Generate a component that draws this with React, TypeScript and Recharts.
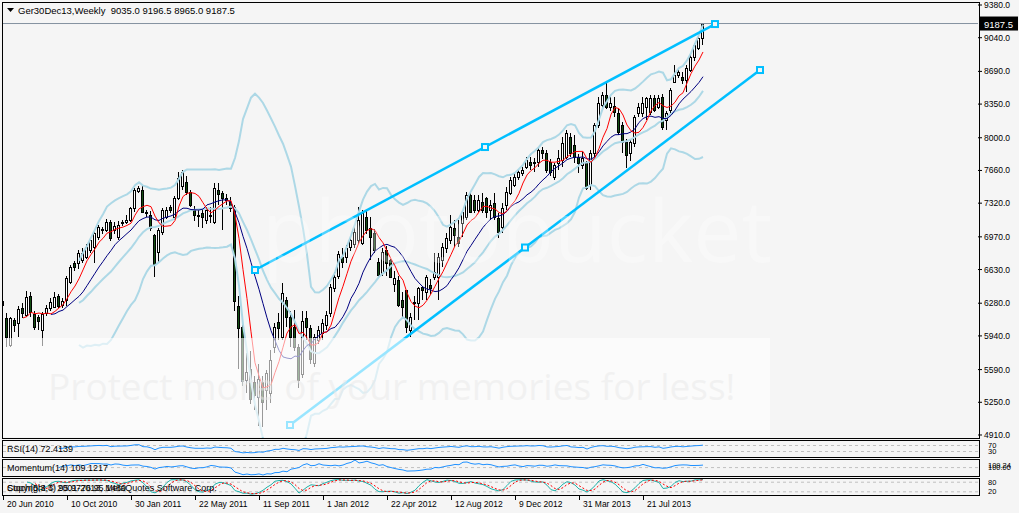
import {
  Bar,
  ComposedChart,
  Line,
  ReferenceDot,
  ReferenceLine,
  XAxis,
  YAxis,
} from "recharts";

// weekly bars, index 0 = week of 20 Jun 2010
const OPEN = [
  6300, 6123, 5846, 6106, 6071, 6234, 6158, 6355, 6165, 6140, 6002, 6175, 6227, 6244, 6358, 6260,
  6313, 6504, 6702, 6695, 6730, 6764, 6833, 6868, 6965, 7050, 7041, 7128, 7041, 6972, 7110, 7128,
  7145, 7266, 7450, 7457, 7232, 7197, 6989, 6816, 7024, 7180, 7284, 7180, 7370, 7500, 7540, 7440,
  7250, 7200, 7215, 7145, 7190, 7128, 7460, 7422, 7370, 7336, 7284, 6250, 6030, 5480, 5600, 5460,
  5300, 5465, 5380, 5343, 5828, 6088, 5932, 6313, 6140, 6036, 5828, 5540, 6123, 6019, 5655, 5900,
  5967, 6054, 6175, 6435, 6560, 6764, 6764, 6868, 6900, 6937, 6902, 7180, 7058, 7006, 6712, 6590,
  6833, 6730, 6480, 6522, 6313, 6417, 6001, 6296, 6279, 6452, 6400, 6470, 6556, 6556, 6729, 6850,
  6937, 7058, 6972, 7110, 7180, 7405, 7353, 7249, 7336, 7370, 7249, 7318, 7162, 7076, 7301, 7422,
  7509, 7596, 7630, 7700, 7752, 7752, 7752, 7873, 7838, 7752, 7596, 7734, 7769, 7803, 8012, 7925,
  7803, 7717, 7734, 7509, 7838, 8133, 8340, 8444, 8323, 8330, 8254, 8133, 7959, 7838, 7942, 8254,
  8254, 8323, 8271, 8410, 8323, 8427, 8185, 8289, 8583, 8652, 8635, 8600, 8704, 8843, 8930, 9035,
];
const HIGH = [
  6350, 6175, 6140, 6130, 6250, 6280, 6410, 6400, 6200, 6160, 6190, 6260, 6330, 6400, 6380, 6330,
  6560, 6680, 6720, 6830, 6850, 6900, 6960, 7030, 7090, 7070, 7160, 7140, 7120, 7130, 7150, 7200,
  7280, 7480, 7500, 7510, 7250, 7240, 7000, 7060, 7270, 7280, 7300, 7390, 7640, 7665, 7600, 7460,
  7290, 7250, 7260, 7280, 7280, 7530, 7530, 7450, 7420, 7380, 7300, 6360, 6110, 5760, 5780, 5520,
  5650, 5520, 5590, 5790, 6071, 6175, 6487, 6348, 6200, 6209, 5860, 6200, 6200, 6050, 5960, 6040,
  6120, 6200, 6480, 6600, 6820, 6850, 6880, 6970, 7080, 7284, 7250, 7250, 7180, 7050, 6750, 6850,
  6870, 6740, 6620, 6560, 6400, 6420, 6180, 6350, 6452, 6452, 6573, 6530, 6799, 6799, 6903, 7006,
  7197, 7145, 7145, 7250, 7440, 7440, 7405, 7405, 7422, 7388, 7353, 7422, 7215, 7318, 7492, 7596,
  7630, 7680, 7700, 7800, 7800, 7790, 7890, 7900, 7870, 7780, 7740, 7873, 8012, 8080, 8046, 8029,
  7830, 7850, 7760, 7870, 8150, 8427, 8480, 8566, 8420, 8420, 8300, 8160, 7990, 7980, 8240, 8358,
  8427, 8427, 8444, 8440, 8440, 8450, 8280, 8514, 8756, 8720, 8680, 8756, 8860, 8990, 9068, 9196.5,
];
const LOW = [
  6240, 5828, 5820, 5980, 5930, 6130, 6140, 6140, 6000, 6000, 5830, 6150, 6200, 6230, 6230, 6230,
  6250, 6480, 6620, 6640, 6700, 6740, 6800, 6695, 6940, 7000, 7020, 6930, 7000, 6940, 7080, 7100,
  7120, 7230, 7430, 7220, 7180, 7030, 6556, 6695, 6990, 7160, 7220, 7150, 7350, 7460, 7400, 7280,
  7130, 7076, 7060, 7100, 7110, 7100, 7300, 7040, 7300, 7230, 6200, 5600, 5420, 5350, 5230, 5170,
  5000, 4997, 5170, 5240, 5759, 5898, 5900, 6036, 5828, 5780, 5400, 5500, 5900, 5650, 5620, 5860,
  5900, 6000, 6140, 6400, 6530, 6650, 6700, 6820, 6850, 6900, 6880, 7000, 6730, 6800, 6540, 6560,
  6560, 6550, 6400, 6240, 6140, 5967, 5932, 6106, 6106, 6313, 6313, 6380, 6520, 6313, 6660, 6800,
  6900, 6868, 6868, 6972, 7145, 7215, 7215, 7232, 7215, 7162, 7145, 7145, 6954, 7006, 7249, 7405,
  7492, 7560, 7600, 7680, 7665, 7648, 7700, 7780, 7630, 7600, 7560, 7665, 7700, 7780, 7800, 7734,
  7630, 7680, 7457, 7457, 7800, 8100, 8290, 8300, 8280, 8220, 8030, 7838, 7683, 7760, 7900, 8220,
  8220, 8185, 8240, 8270, 8300, 8080, 8080, 8260, 8566, 8620, 8560, 8480, 8680, 8800, 8910, 8965,
];
const CLOSE = [
  6260, 5932, 6123, 6054, 6217, 6175, 6348, 6192, 6036, 6098, 6165, 6227, 6296, 6348, 6251, 6300,
  6539, 6660, 6653, 6799, 6806, 6868, 6937, 7006, 7069, 7040, 7128, 6955, 7083, 7093, 7128, 7145,
  7266, 7457, 7474, 7232, 7215, 7058, 6677, 7041, 7249, 7249, 7249, 7370, 7578, 7640, 7440, 7300,
  7197, 7190, 7180, 7249, 7200, 7474, 7420, 7370, 7350, 7266, 6300, 6020, 5470, 5560, 5280, 5330,
  5490, 5257, 5550, 5690, 6036, 6019, 6383, 6140, 5932, 5828, 5482, 6100, 6036, 5700, 5932, 6000,
  6071, 6157, 6452, 6556, 6790, 6712, 6851, 6937, 7020, 7145, 7215, 7040, 6972, 6833, 6573, 6816,
  6695, 6556, 6540, 6262, 6245, 6036, 6140, 6279, 6435, 6417, 6556, 6440, 6608, 6764, 6868, 6954,
  7076, 6990, 6903, 7232, 7405, 7232, 7249, 7353, 7249, 7232, 7301, 7180, 7024, 7266, 7440, 7561,
  7596, 7648, 7665, 7769, 7717, 7734, 7873, 7838, 7665, 7648, 7717, 7786, 7942, 8046, 7838, 7803,
  7734, 7786, 7474, 7838, 8133, 8358, 8444, 8323, 8358, 8270, 8063, 7959, 7821, 7959, 8219, 8323,
  8358, 8410, 8410, 8289, 8410, 8115, 8254, 8496, 8652, 8687, 8600, 8722, 8843, 8964, 9034, 9187.5,
];

const DATE_TICKS = [0, 16, 32, 48, 64, 80, 96, 112, 128, 144, 160];
const DATE_LABELS = [
  "20 Jun 2010", "10 Oct 2010", "30 Jan 2011", "22 May 2011", "11 Sep 2011", "1 Jan 2012",
  "22 Apr 2012", "12 Aug 2012", "9 Dec 2012", "31 Mar 2013", "21 Jul 2013",
];
const PRICE_TICKS = [9380, 9040, 8690, 8350, 8000, 7660, 7320, 6970, 6630, 6280, 5940, 5590, 5250, 4910];

// hand-drawn channel: [bar, price] end points
const UPPER_CHANNEL = [[63, 6625], [178, 9182]];
const LOWER_CHANNEL = [[71.75, 5014], [189.25, 8704]];

const RSI_LEVELS = [30, 70];
const STOCH_LEVELS = [20, 80];

const FONT = "'Liberation Sans', Arial, sans-serif";
const BG = "#f5f5f5";
const AXIS_W = 41;
const X_DOMAIN: [number, number] = [-0.25, 243.75];
const PRICE_DOMAIN: [number, number] = [4878.8, 9411.2];

function sma(values: (number | null)[], period: number): (number | null)[] {
  return values.map((_, i) => {
    if (i < period - 1) return null;
    let sum = 0;
    for (let k = i - period + 1; k <= i; k++) {
      const v = values[k];
      if (v == null) return null;
      sum += v;
    }
    return sum / period;
  });
}

function bands(values: number[], period: number, dev: number) {
  const mid = sma(values, period);
  const up: (number | null)[] = [];
  const low: (number | null)[] = [];
  values.forEach((_, i) => {
    const m = mid[i];
    if (m == null) {
      up.push(null);
      low.push(null);
      return;
    }
    let s = 0;
    for (let k = i - period + 1; k <= i; k++) s += (values[k] - m) ** 2;
    const sd = Math.sqrt(s / period);
    up.push(m + dev * sd);
    low.push(m - dev * sd);
  });
  return { mid, up, low };
}

function rsi(values: number[], period: number): (number | null)[] {
  const out: (number | null)[] = values.map(() => null);
  let gain = 0;
  let loss = 0;
  for (let i = 1; i < values.length; i++) {
    const d = values[i] - values[i - 1];
    const g = Math.max(d, 0);
    const l = Math.max(-d, 0);
    if (i <= period) {
      gain += g / period;
      loss += l / period;
    } else {
      gain = (gain * (period - 1) + g) / period;
      loss = (loss * (period - 1) + l) / period;
    }
    if (i >= period) out[i] = loss === 0 ? 100 : 100 - 100 / (1 + gain / loss);
  }
  return out;
}

function momentum(values: number[], period: number): (number | null)[] {
  return values.map((v, i) => (i < period ? null : (v / values[i - period]) * 100));
}

function stochastic(kPeriod: number, slowing: number, dPeriod: number) {
  const lowest: number[] = [];
  const highest: number[] = [];
  CLOSE.forEach((_, i) => {
    const from = Math.max(0, i - kPeriod + 1);
    lowest.push(Math.min(...LOW.slice(from, i + 1)));
    highest.push(Math.max(...HIGH.slice(from, i + 1)));
  });
  const k: (number | null)[] = CLOSE.map((_, i) => {
    if (i < kPeriod + slowing - 2) return null;
    let num = 0;
    let den = 0;
    for (let j = i - slowing + 1; j <= i; j++) {
      num += CLOSE[j] - lowest[j];
      den += highest[j] - lowest[j];
    }
    return den === 0 ? 100 : (num / den) * 100;
  });
  return { k, d: sma(k, dPeriod) };
}

const fastMa = sma(CLOSE, 6);
const slowMa = sma(CLOSE, 13);
const bb = bands(CLOSE, 20, 2);
const rsiLine = rsi(CLOSE, 14);
const momLine = momentum(CLOSE, 14);
const stoch = stochastic(5, 3, 3);

const rows = CLOSE.map((close, i) => ({
  bar: i,
  open: OPEN[i],
  high: HIGH[i],
  low: LOW[i],
  close,
  range: [LOW[i], HIGH[i]],
  fast: fastMa[i],
  slow: slowMa[i],
  bbUp: bb.up[i],
  bbMid: bb.mid[i],
  bbLow: bb.low[i],
  rsi: rsiLine[i],
  mom: momLine[i],
  stK: stoch.k[i],
  stD: stoch.d[i],
}));

const momValues = momLine.filter((v): v is number => v != null);
const MOM_DOMAIN: [number, number] = [Math.min(...momValues), Math.max(...momValues)];

const last = CLOSE.length - 1;
const LAST_PRICE = CLOSE[last];
const LAST_MOM = momLine[last] ?? 100;

function Candle(props: any) {
  const { x, y, width, height, payload } = props;
  if (!payload) return null;
  const top = Math.min(y, y + height);
  const span = Math.abs(height);
  const { open, high, low, close } = payload;
  const toY = (v: number) => top + ((high - v) / (high - low)) * span;
  const cx = Math.round(x + width / 2 - 0.5);
  const yo = toY(open);
  const yc = toY(close);
  const bodyTop = Math.round(Math.min(yo, yc));
  const bodyBottom = Math.max(Math.round(Math.max(yo, yc)), bodyTop + 1);
  const up = close >= open;
  return (
    <g>
      <line
        x1={cx + 0.5}
        x2={cx + 0.5}
        y1={Math.round(top)}
        y2={Math.round(top + span)}
        stroke="#000"
        strokeWidth={1}
      />
      <rect
        x={cx - 0.5}
        y={bodyTop + 0.5}
        width={2}
        height={bodyBottom - bodyTop}
        fill={up ? "#ffffff" : "#124d12"}
        stroke="#000"
        strokeWidth={1}
      />
    </g>
  );
}

function PriceTag(props: any) {
  const vb = props.viewBox ?? {};
  const x = vb.x + vb.width + 2;
  const y = vb.y;
  return (
    <g>
      <rect x={x} y={y - 7} width={38} height={14} fill="#000" />
      <text x={x + 4} y={y + 4} fill="#fff" fontSize={9.5} fontFamily={FONT}>
        {LAST_PRICE.toFixed(1)}
      </text>
    </g>
  );
}

function Marker(props: any) {
  const { cx, cy } = props;
  return (
    <rect x={cx - 3} y={cy - 3} width={6} height={6} fill={BG} stroke="#00bfff" strokeWidth={2} />
  );
}

function DateTick(props: any) {
  const { x, y, payload } = props;
  const idx = DATE_TICKS.indexOf(payload.value);
  const px = Math.round(x) + 0.5;
  return (
    <g>
      <line x1={px} x2={px} y1={y + 1} y2={y + 5} stroke="#000" />
      <text x={px + 3.5} y={y + 12} fontSize={8.5} fill="#000" fontFamily={FONT}>
        {DATE_LABELS[idx]}
      </text>
    </g>
  );
}

const subTick = { fontSize: 7.5, fill: "#000", fontFamily: FONT };

function PanelText({ top, children }: { top: number; children: React.ReactNode }) {
  return (
    <div
      style={{
        position: "absolute",
        left: 7,
        top,
        fontSize: 9,
        lineHeight: "10px",
        whiteSpace: "nowrap",
        color: "#000",
      }}
    >
      {children}
    </div>
  );
}

function Frame({ top, height }: { top: number; height: number }) {
  return (
    <div
      style={{
        position: "absolute",
        left: 2,
        top,
        width: 978,
        height,
        border: "1px solid #000",
        boxSizing: "border-box",
        pointerEvents: "none",
      }}
    />
  );
}

function midpoint(seg: number[][]) {
  return [(seg[0][0] + seg[1][0]) / 2, (seg[0][1] + seg[1][1]) / 2];
}

export default function App() {
  const upMid = midpoint(UPPER_CHANNEL);
  const lowMid = midpoint(LOWER_CHANNEL);
  const lineProps = { dot: false, activeDot: false, isAnimationActive: false } as const;

  return (
    <div
      style={{
        position: "absolute",
        left: 0,
        top: 0,
        width: 1019,
        height: 513,
        background: BG,
        fontFamily: FONT,
        overflow: "hidden",
      }}
    >
      {/* price window */}
      <div style={{ position: "absolute", left: 0, top: 0 }}>
        <ComposedChart
          width={1019}
          height={440}
          data={rows}
          margin={{ top: 2, right: 0, bottom: 2, left: 2 }}
        >
          <XAxis dataKey="bar" type="number" domain={X_DOMAIN} hide allowDataOverflow />
          <YAxis
            orientation="right"
            width={AXIS_W}
            domain={PRICE_DOMAIN}
            ticks={PRICE_TICKS}
            interval={0}
            allowDataOverflow
            axisLine={false}
            tickLine={{ stroke: "#000" }}
            tickSize={4}
            tickMargin={2}
            tick={{ fontSize: 8.5, fill: "#000", fontFamily: FONT }}
            tickFormatter={(v: number) => v.toFixed(1)}
          />
          <ReferenceLine y={LAST_PRICE} stroke="#8592a0" strokeWidth={1} label={<PriceTag />} />
          <Line dataKey="bbUp" stroke="#add8e6" strokeWidth={2} {...lineProps} />
          <Line dataKey="bbMid" stroke="#add8e6" strokeWidth={2} {...lineProps} />
          <Line dataKey="bbLow" stroke="#add8e6" strokeWidth={2} {...lineProps} />
          <Bar dataKey="range" barSize={3} shape={<Candle />} isAnimationActive={false} />
          <Line dataKey="slow" stroke="#000080" strokeWidth={1} {...lineProps} />
          <Line dataKey="fast" stroke="#ff0000" strokeWidth={1} {...lineProps} />
          <ReferenceLine
            segment={UPPER_CHANNEL.map(([x, y]) => ({ x, y }))}
            stroke="#00bfff"
            strokeWidth={2.5}
          />
          <ReferenceLine
            segment={LOWER_CHANNEL.map(([x, y]) => ({ x, y }))}
            stroke="#00bfff"
            strokeWidth={2.5}
          />
          {[...UPPER_CHANNEL, upMid, ...LOWER_CHANNEL, lowMid].map(([x, y], i) => (
            <ReferenceDot key={i} x={x} y={y} r={3} shape={<Marker />} />
          ))}
        </ComposedChart>
      </div>

      {/* photobucket watermark */}
      <div
        style={{
          position: "absolute",
          left: 2,
          top: 338,
          width: 768,
          height: 99,
          background: "rgba(255,255,255,0.6)",
        }}
      />
      <div
        style={{
          position: "absolute",
          left: 48,
          top: 360,
          fontSize: 37,
          fontFamily: "'Open Sans', sans-serif",
          color: "rgba(232,232,232,0.5)",
          whiteSpace: "nowrap",
        }}
      >
        Protect more of your memories for less!
      </div>
      <div
        style={{
          position: "absolute",
          left: 262,
          top: 170,
          fontSize: 86,
          fontFamily: "'Open Sans', sans-serif",
          color: "rgba(255,255,255,0.3)",
          whiteSpace: "nowrap",
        }}
      >
        photobucket
      </div>

      {/* RSI */}
      <div style={{ position: "absolute", left: 0, top: 440 }}>
        <ComposedChart width={1019} height={17} data={rows} margin={{ top: 1, right: 0, bottom: 1, left: 2 }}>
          <XAxis dataKey="bar" type="number" domain={X_DOMAIN} hide allowDataOverflow />
          <YAxis
            orientation="right"
            width={AXIS_W}
            domain={[0, 100]}
            ticks={RSI_LEVELS}
            interval={0}
            axisLine={false}
            tickLine={false}
            tickMargin={4}
            tick={subTick}
          />
          {RSI_LEVELS.map((v) => (
            <ReferenceLine key={v} y={v} stroke="#c0c0c0" strokeDasharray="3 3" />
          ))}
          <Line dataKey="rsi" stroke="#1e90ff" strokeWidth={1} {...lineProps} />
        </ComposedChart>
      </div>

      {/* Momentum */}
      <div style={{ position: "absolute", left: 0, top: 459 }}>
        <ComposedChart width={1019} height={17} data={rows} margin={{ top: 1, right: 0, bottom: 1, left: 2 }}>
          <XAxis dataKey="bar" type="number" domain={X_DOMAIN} hide allowDataOverflow />
          <YAxis
            orientation="right"
            width={AXIS_W}
            domain={MOM_DOMAIN}
            ticks={[LAST_MOM, 100]}
            interval={0}
            axisLine={false}
            tickLine={false}
            tickMargin={4}
            tick={subTick}
            tickFormatter={(v: number) => v.toFixed(2)}
          />
          <ReferenceLine y={100} stroke="#c0c0c0" strokeDasharray="3 3" />
          <Line dataKey="mom" stroke="#1e90ff" strokeWidth={1} {...lineProps} />
        </ComposedChart>
      </div>

      {/* Stochastic + time axis */}
      <div style={{ position: "absolute", left: 0, top: 478 }}>
        <ComposedChart width={1019} height={35} data={rows} margin={{ top: 1, right: 0, bottom: 1, left: 2 }}>
          <XAxis
            dataKey="bar"
            type="number"
            domain={X_DOMAIN}
            ticks={DATE_TICKS}
            interval={0}
            allowDataOverflow
            height={17}
            axisLine={false}
            tickLine={false}
            tickSize={0}
            tickMargin={0}
            tick={<DateTick />}
          />
          <YAxis
            orientation="right"
            width={AXIS_W}
            domain={[0, 100]}
            ticks={STOCH_LEVELS}
            interval={0}
            axisLine={false}
            tickLine={false}
            tickMargin={4}
            tick={subTick}
          />
          {STOCH_LEVELS.map((v) => (
            <ReferenceLine key={v} y={v} stroke="#c0c0c0" strokeDasharray="3 3" />
          ))}
          <Line dataKey="stK" stroke="#20b2aa" strokeWidth={1} {...lineProps} />
          <Line dataKey="stD" stroke="#ff0000" strokeWidth={1} strokeDasharray="2 2" {...lineProps} />
        </ComposedChart>
      </div>

      <Frame top={2} height={437} />
      <Frame top={440} height={18} />
      <Frame top={459} height={18} />
      <Frame top={478} height={18} />

      {/* header */}
      <svg style={{ position: "absolute", left: 7, top: 8 }} width={8} height={5}>
        <polygon points="0,0 7,0 3.5,4" fill="#000" />
      </svg>
      <div
        style={{
          position: "absolute",
          left: 18,
          top: 5,
          fontSize: 9.5,
          lineHeight: "11px",
          whiteSpace: "pre",
          color: "#000",
        }}
      >
        {`Ger30Dec13,Weekly  ${OPEN[last].toFixed(1)} ${HIGH[last].toFixed(1)} ${LOW[last].toFixed(1)} ${CLOSE[last].toFixed(1)}`}
      </div>

      <PanelText top={444}>RSI(14) 72.4139</PanelText>
      <PanelText top={463}>Momentum(14) 109.1217</PanelText>
      <PanelText top={483}>Stoch(5,3,3) 95.9776 95.1480</PanelText>
      <PanelText top={483}>Copyright © 2001-2013, MetaQuotes Software Corp.</PanelText>
    </div>
  );
}
